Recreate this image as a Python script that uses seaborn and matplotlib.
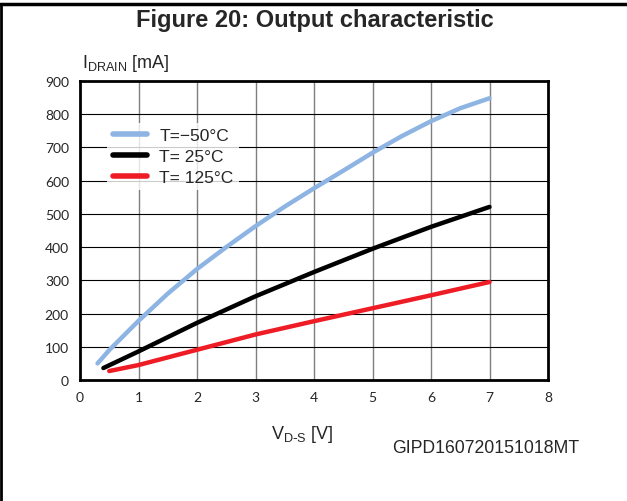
import numpy as np
import pandas as pd
import matplotlib
matplotlib.use("Agg")
import matplotlib.pyplot as plt
import seaborn as sns
from matplotlib.lines import Line2D

# -----------------------------
# data
# -----------------------------
vds_m50 = [0.3, 0.5, 1, 1.5, 2, 2.5, 3, 3.5, 4, 4.5, 5, 5.5, 6, 6.5, 7]
id_m50 = [50, 90, 178, 260, 334, 400, 463, 522, 577, 630, 684, 734, 779, 818, 848]

vds_25 = [0.4, 1, 2, 3, 4, 5, 6, 7]
id_25 = [36, 86, 172, 252, 325, 395, 461, 521]

vds_125 = [0.5, 1, 2, 3, 4, 5, 6, 7]
id_125 = [27, 45, 91, 137, 177, 216, 255, 295]

labels = ["T=\u221250°C", "T= 25°C", "T= 125°C"]
colors = ["#8DB4E2", "#000000", "#EE1C25"]

df = pd.concat([
    pd.DataFrame({"vds": vds_m50, "id": id_m50, "temp": labels[0]}),
    pd.DataFrame({"vds": vds_25, "id": id_25, "temp": labels[1]}),
    pd.DataFrame({"vds": vds_125, "id": id_125, "temp": labels[2]}),
])

sns.set_theme(style="white")
plt.rcParams["font.family"] = ["Liberation Sans", "DejaVu Sans"]

fig = plt.figure(figsize=(6.27, 5.02), dpi=100)
ax = fig.add_axes([80 / 627, 1 - 381 / 502, 468 / 627, 299 / 502])

# grid: grey verticals, black horizontals
for xv in range(1, 8):
    ax.axvline(xv, color="#7F7F7F", lw=1.0, zorder=0)
for yv in range(100, 900, 100):
    ax.axhline(yv, color="black", lw=0.8, zorder=0)

sns.lineplot(data=df, x="vds", y="id", hue="temp", palette=colors,
             sort=False, estimator=None, lw=3.2, ax=ax, legend=False, zorder=3)

ax.set_xlim(0, 8)
ax.set_ylim(0, 900)
ax.set_xticks(range(0, 9))
ax.set_yticks(range(0, 1000, 100))
ax.tick_params(length=0, labelsize=10, pad=8)
for lab in ax.get_xticklabels() + ax.get_yticklabels():
    lab.set_family(["Lato", "DejaVu Sans"])
ax.set_xlabel("")
ax.set_ylabel("")
for s in ax.spines.values():
    s.set_color("black")
    s.set_linewidth(2.0)

handles = [Line2D([], [], color=c, lw=4) for c in colors]
leg = ax.legend(handles, labels, loc="upper left", bbox_to_anchor=(0.04, 0.89),
                frameon=True, fontsize=12.5, handlelength=2.0, handletextpad=0.7,
                labelspacing=0.33, borderpad=0.3, fancybox=False)
leg.get_frame().set_facecolor("white")
leg.get_frame().set_edgecolor("none")
leg.set_zorder(5)

fig.text(0.502, 1 - 20 / 502, "Figure 20: Output characteristic", ha="center", va="center",
         fontsize=17, fontweight="bold")
fig.text(82 / 627, 1 - 63 / 502, r"I$_{\mathregular{DRAIN}}$ [mA]", ha="left", va="center",
         fontsize=13)
fig.text(302 / 627, 1 - 435 / 502, r"V$_{\mathregular{D\text{-}S}}$ [V]", ha="center", va="center",
         fontsize=13)
fig.text(486 / 627, 1 - 449 / 502, "GIPD160720151018MT", ha="center", va="center",
         fontsize=12.7)

# outer frame lines (top and left)
fig.add_artist(Line2D([0, 1], [1 - 5 / 502, 1 - 5 / 502], color="black", lw=2.5,
                      transform=fig.transFigure))
fig.add_artist(Line2D([1 / 627, 1 / 627], [0, 1 - 5 / 502], color="black", lw=2,
                      transform=fig.transFigure))

plt.savefig("out.png", dpi=100)
plt.close()
